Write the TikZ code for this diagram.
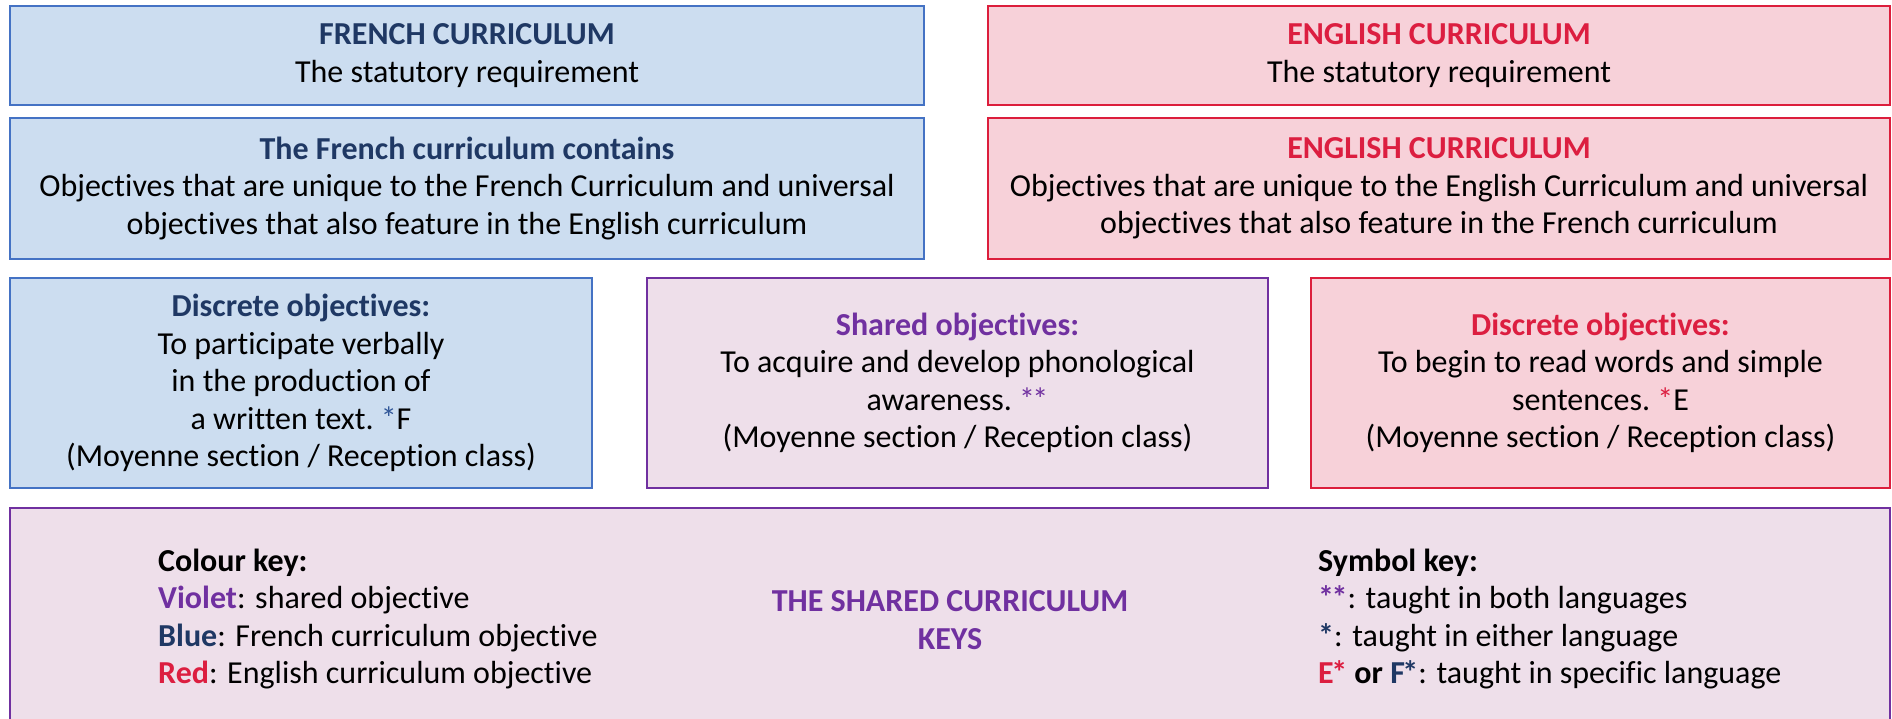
\documentclass[tikz,border=0pt]{standalone}
\usepackage{fontspec}
\setmainfont{Carlito}[Ligatures=NoCommon]
\definecolor{frfill}{RGB}{204,221,240}
\definecolor{frline}{RGB}{68,114,196}
\definecolor{frtext}{RGB}{31,56,100}
\definecolor{frstar}{RGB}{47,85,151}
\definecolor{enfill}{RGB}{247,209,217}
\definecolor{enline}{RGB}{220,30,60}
\definecolor{entext}{RGB}{220,30,64}
\definecolor{shfill}{RGB}{238,223,234}
\definecolor{shline}{RGB}{112,48,160}
\definecolor{shtext}{RGB}{112,48,160}
\newcommand\bodyfont{\fontsize{32}{37.5}\selectfont}
\newcommand\astk{\kern-0.08em*}
\begin{document}
\begin{tikzpicture}[x=1pt,y=-1pt,
    box/.style={line width=2pt,inner sep=0pt,align=center,font=\bodyfont},
    frbox/.style={box,draw=frline,fill=frfill},
    enbox/.style={box,draw=enline,fill=enfill},
    shbox/.style={box,draw=shline,fill=shfill},
    keytext/.style={inner sep=0pt,align=left,font=\bodyfont,anchor=west}]
    \useasboundingbox (0,0) rectangle (1892,718);
    % top row: statutory requirement
    \node[frbox,minimum width=914pt,minimum height=99pt] (frtop) at (467,55.5) {\textbf{\color{frtext}FRENCH CURRICULUM}\\The statutory requirement};
    \node[enbox,minimum width=902pt,minimum height=99pt] (entop) at (1439,55.5) {\textbf{\color{entext}ENGLISH CURRICULUM}\\The statutory requirement};
    % second row: contents
    \node[frbox,minimum width=914pt,minimum height=141pt] (frcont) at (467,188.5) {\textbf{\color{frtext}The French curriculum contains}\\Objectives that are unique to the French Curriculum and universal\\objectives that also feature in the English curriculum};
    \node[enbox,minimum width=902pt,minimum height=141pt] (encont) at (1439,188.5) {\textbf{\color{entext}ENGLISH CURRICULUM}\\Objectives that are unique to the English Curriculum and universal\\objectives that also feature in the French curriculum};
    % third row: objectives
    \node[frbox,minimum width=582pt,minimum height=210pt] (frobj) at (301,383) {\textbf{\color{frtext}Discrete objectives:}\\To participate verbally\\in the production of\\a written text. {\color{frstar}\astk}F\\(Moyenne section / Reception class)};
    \node[shbox,minimum width=621pt,minimum height=210pt] (shobj) at (957.5,383) {\textbf{\color{shtext}Shared objectives:}\\To acquire and develop phonological\\awareness. {\color{shtext}\astk\astk}\\(Moyenne section / Reception class)};
    \node[enbox,minimum width=579pt,minimum height=210pt] (enobj) at (1600.5,383) {\textbf{\color{entext}Discrete objectives:}\\To begin to read words and simple\\sentences. {\color{entext}\astk}E\\(Moyenne section / Reception class)};
    % bottom: keys
    \node[shbox,minimum width=1880pt,minimum height=224pt] (keys) at (950,620) {\textbf{\color{shtext}THE SHARED CURRICULUM}\\\textbf{\color{shtext}KEYS}};
    \node[keytext] (colkey) at (158,619) {\textbf{Colour key:}\\{\color{shtext}\textbf{Violet}}: shared objective\\{\color{frtext}\textbf{Blue}}: French curriculum objective\\{\color{entext}\textbf{Red}}: English curriculum objective};
    \node[keytext] (symkey) at (1318,619) {\textbf{Symbol key:}\\{\color{shtext}\textbf{*\astk}}: taught in both languages\\{\color{frtext}\textbf{*}}: taught in either language\\{\color{entext}\textbf{E\astk}} \textbf{or} {\color{frtext}\textbf{F\astk}}: taught in specific language};
\end{tikzpicture}
\end{document}
